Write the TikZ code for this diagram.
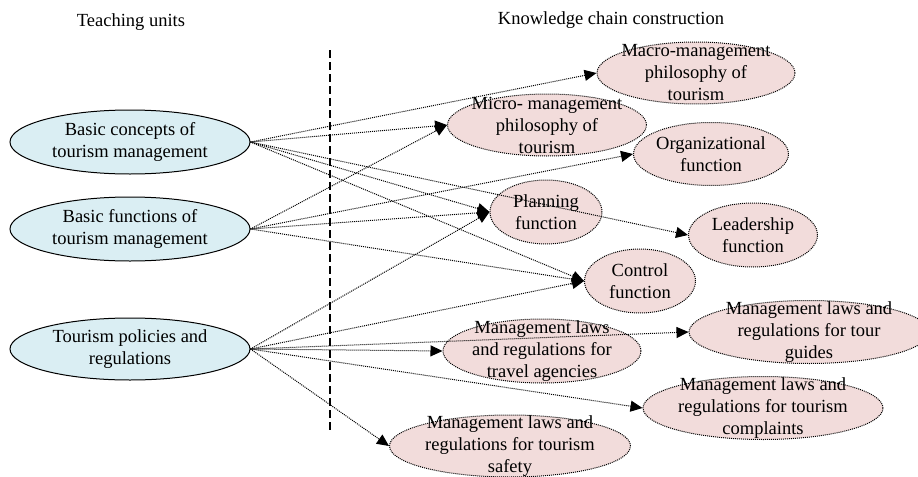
\documentclass[tikz,border=0pt]{standalone}
\usepackage{fontspec}
\setmainfont{Liberation Serif}
\usepackage{xcolor}
\usetikzlibrary{arrows.meta,shapes.geometric}
\definecolor{UBlue}{HTML}{DAEEF3}
\definecolor{KPink}{HTML}{F2DCDB}

\begin{document}
\begin{tikzpicture}[
  x=0.5pt,y=-0.5pt,
  font=\fontsize{9.25pt}{11pt}\selectfont,
  tu/.style={ellipse,draw,line width=0.5pt,fill=UBlue,inner sep=0pt,
    minimum width=120pt,minimum height=32pt,align=center},
  kc/.style={ellipse,draw,line width=0.5pt,dash pattern=on 0.5pt off 0.5pt,
    fill=KPink,inner sep=0pt},
  every label/.style={align=center,inner sep=0pt},
  a/.style={-{Triangle[length=6pt,width=5.5pt]},line width=0.5pt,
    dash pattern=on 0.5pt off 0.5pt},
  div/.style={line width=0.6pt,dash pattern=on 4pt off 2pt}
]
  \useasboundingbox (0,0) rectangle (918,477);
  \node (tutitle) at (131,22) {Teaching units};
  \node (kctitle) at (611,20) {Knowledge chain construction};
  \coordinate (divtop) at (330,50);
  \coordinate (divbot) at (330,430);
  \draw[div] (divtop) -- (divbot);
  % teaching units
  \node[tu] (concepts) at (130,142) {Basic concepts of\\tourism management};
  \node[tu] (functions) at (130,229) {Basic functions of\\tourism management};
  \node[tu,minimum height=31pt] (policies) at (130,349) {Tourism policies and\\regulations};
  % knowledge chain
  \node[kc,minimum width=99pt,minimum height=31pt,
    label={center:Macro-management\\philosophy of\\tourism}] (macro) at (696,73) {};
  \node[kc,minimum width=99.5pt,minimum height=31pt,
    label={center:Micro- management\\philosophy of\\tourism}] (micro) at (547,125) {};
  \node[kc,minimum width=77.5pt,minimum height=31.5pt,
    label={center:Organizational\\function}] (organ) at (711,154) {};
  \node[kc,minimum width=56pt,minimum height=32pt,
    label={center:Planning\\function}] (planning) at (546,212) {};
  \node[kc,minimum width=64.5pt,minimum height=32pt,
    label={center:Leadership\\function}] (leader) at (753,235) {};
  \node[kc,minimum width=55.5pt,minimum height=32pt,
    label={center:Control\\function}] (control) at (640,281) {};
  \node[kc,minimum width=120pt,minimum height=31.5pt,
    label={center:Management laws and\\regulations for tour\\guides}] (guides) at (809,332) {};
  \node[kc,minimum width=99pt,minimum height=32pt,
    label={center:Management laws\\and regulations for\\travel agencies}] (agencies) at (542,351) {};
  \node[kc,minimum width=120pt,minimum height=31.5pt,
    label={center:Management laws and\\regulations for tourism\\complaints}] (complaints) at (763,408) {};
  \node[kc,minimum width=120.5pt,minimum height=31pt,
    label={center:Management laws and\\regulations for tourism\\safety}] (safety) at (510,446) {};
  % links
  \foreach \x/\y in {concepts/macro,concepts/micro,concepts/planning,concepts/leader,
    concepts/control,functions/micro,functions/organ,functions/planning,functions/control,
    policies/planning,policies/control,policies/guides,policies/agencies,
    policies/complaints,policies/safety}
    {\draw[a] (\x.east) -- (\y.west);}
\end{tikzpicture}
\end{document}
